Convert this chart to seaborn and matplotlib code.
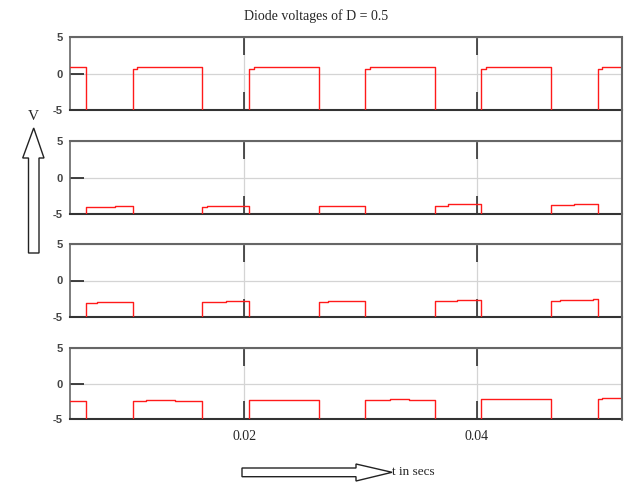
import matplotlib
matplotlib.use("Agg")
import matplotlib.pyplot as plt
import seaborn as sns
from matplotlib.patches import Polygon

# step breakpoints (time in s) and the level that holds after each breakpoint
# levels below -5 are off the scale (clipped at the panel bottom)
d1_t = [0.005, 0.0064, 0.0104, 0.0108, 0.0164, 0.0204, 0.0208, 0.0264, 0.0304, 0.0308,
        0.0364, 0.0404, 0.0408, 0.0464, 0.0504, 0.0508, 0.0525]
d1_v = [0.9, -6, 0.65, 0.9, -6, 0.65, 0.9, -6, 0.65, 0.9,
        -6, 0.65, 0.9, -6, 0.65, 0.9, 0.9]

d2_t = [0.005, 0.0064, 0.0089, 0.0104, 0.0164, 0.0168, 0.0204, 0.0264, 0.0272, 0.0304,
        0.0364, 0.0375, 0.0404, 0.0464, 0.0484, 0.0504, 0.0525]
d2_v = [-6, -4.1, -3.93, -6, -4.1, -3.88, -6, -3.97, -3.84, -6,
        -3.84, -3.66, -6, -3.7, -3.57, -6, -6]

d3_t = [0.005, 0.0064, 0.0073, 0.0104, 0.0164, 0.0184, 0.0204, 0.0264, 0.0272, 0.0304,
        0.0364, 0.0383, 0.0404, 0.0464, 0.0472, 0.0500, 0.0504, 0.0525]
d3_v = [-6, -3.08, -2.95, -6, -2.95, -2.77, -6, -2.9, -2.77, -6,
        -2.77, -2.64, -6, -2.8, -2.72, -2.55, -6, -6]

d4_t = [0.005, 0.0064, 0.0104, 0.0115, 0.0140, 0.0164, 0.0204, 0.0264, 0.0304, 0.0325,
        0.0342, 0.0364, 0.0404, 0.0464, 0.0504, 0.0508, 0.0525]
d4_v = [-2.45, -6, -2.4, -2.3, -2.45, -6, -2.3, -6, -2.3, -2.2,
        -2.3, -6, -2.2, -6, -2.2, -2.05, -2.05]

panels = [(d1_t, d1_v), (d2_t, d2_v), (d3_t, d3_v), (d4_t, d4_v)]
x_ticks = [0.02, 0.04]
x_tick_labels = ["0.02", "0.04"]
y_ticks = [-5, 0, 5]

sns.set_style("white")
plt.rcParams["font.family"] = ["Liberation Sans", "DejaVu Sans"]
plt.rcParams["axes.unicode_minus"] = False

W, H = 632, 483
fig = plt.figure(figsize=(W / 100, H / 100), dpi=100)

# panel boxes in pixels: (top, bottom)
boxes = [(37, 110), (141, 214), (244, 317), (348, 419)]
left_px, right_px = 70, 622

for i, ((t, v), (top, bot)) in enumerate(zip(panels, boxes)):
    ax = fig.add_axes([left_px / W, 1 - bot / H, (right_px - left_px) / W, (bot - top) / H])
    sns.lineplot(x=t, y=v, ax=ax, drawstyle="steps-post", color="#ff1a1a", lw=1.0,
                 estimator=None, zorder=3)
    ax.set_xlim(0.005, 0.0525)
    ax.set_ylim(-5, 5)
    ax.set_xticks(x_ticks)
    ax.set_yticks(y_ticks)
    ax.grid(True, color="#d4d4d4", lw=0.9)
    ax.tick_params(axis="x", direction="in", length=13, width=1.1, color="#222",
                   top=True, bottom=True, pad=8)
    ax.tick_params(axis="y", direction="in", length=10, width=1.2, color="#222",
                   left=True, labelsize=8, labelcolor="#444", pad=5)
    if i == len(panels) - 1:
        ax.set_xticklabels(x_tick_labels, family="Liberation Serif", fontsize=10)
    else:
        ax.set_xticklabels([])
    for lbl in ax.get_yticklabels():
        lbl.set_fontweight("bold")
    ax.spines["top"].set_color("#666")
    ax.spines["top"].set_linewidth(1.5)
    ax.spines["bottom"].set_color("#333")
    ax.spines["bottom"].set_linewidth(1.5)
    ax.spines["left"].set_color("#666")
    ax.spines["left"].set_linewidth(1.2)
    ax.spines["right"].set_visible(False)
    ax.set_xlabel("")
    ax.set_ylabel("")

# overlay in pixel coordinates for the arrows and labels
ov = fig.add_axes([0, 0, 1, 1])
ov.set_xlim(0, W)
ov.set_ylim(H, 0)
ov.axis("off")
ov.patch.set_visible(False)

ov.plot([right_px, right_px], [37, 420], color="#666", lw=1.5)

up = [(28.5, 253), (39, 253), (39, 158), (44, 158), (33.7, 128), (22.7, 158), (28.5, 158)]
ov.add_patch(Polygon(up, closed=True, facecolor="white", edgecolor="#222", lw=1.0))
rt = [(242, 468), (356, 468), (356, 464), (392, 472.3), (356, 481), (356, 476.7), (242, 476.7)]
ov.add_patch(Polygon(rt, closed=True, facecolor="white", edgecolor="#222", lw=1.0))

ov.text(33.5, 116, "V", ha="center", va="center", family="Liberation Serif", fontsize=11)
ov.text(392, 472, "t in secs", ha="left", va="center", family="Liberation Serif", fontsize=9.5)
ov.text(316, 16, "Diode voltages of D = 0.5", ha="center", va="center",
        family="Liberation Serif", fontsize=10)

fig.savefig("out.png", dpi=100)
